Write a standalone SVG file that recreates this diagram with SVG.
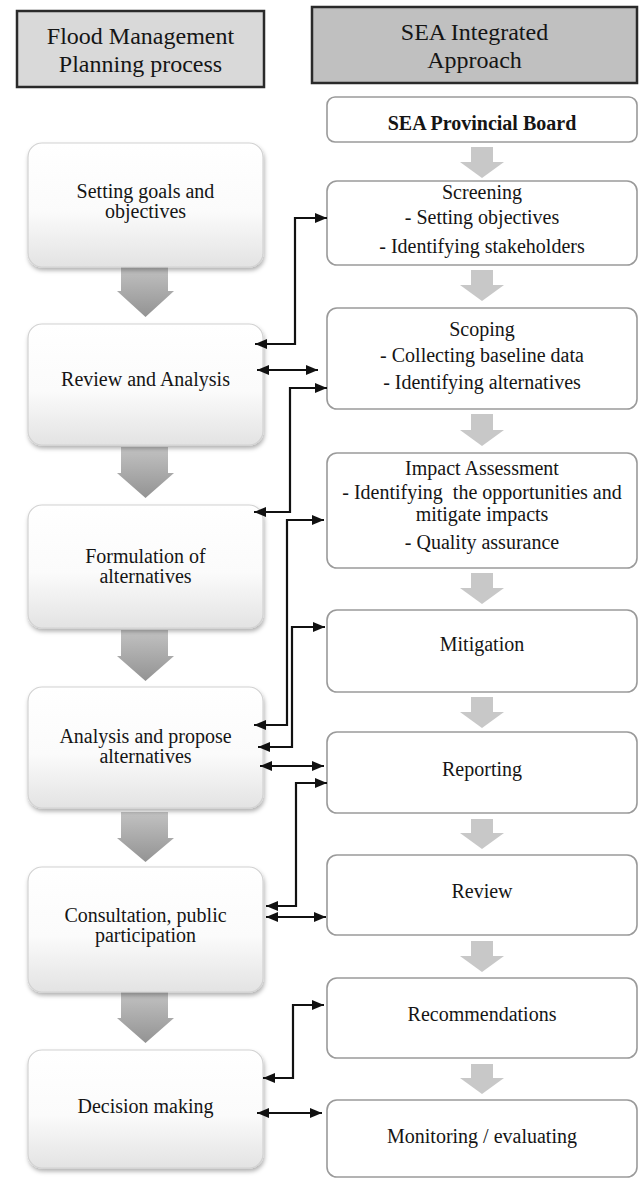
<svg xmlns="http://www.w3.org/2000/svg" width="641" height="1179" viewBox="0 0 641 1179">
<style>
  text { font-family: "Liberation Serif", "Times New Roman", serif; fill: #151515; text-anchor: middle; }
  .hdr { font-size: 24px; }
  .t { font-size: 20px; }
  .b { font-size: 20px; font-weight: bold; }
  .lbox { fill: url(#lgrad); stroke: #d2d2d2; stroke-width: 1.2; filter: url(#shadow); }
  .rbox { fill: #ffffff; stroke: #9a9a9a; stroke-width: 1.6; }
  .larrow { fill: url(#agradL); }
  .rarrow { fill: #c8c8c8; }
  .conn { fill: none; stroke: #111; stroke-width: 2.2; marker-end: url(#ah); }
  .both { marker-start: url(#ah); }
</style>
<defs>
  <linearGradient id="lgrad" x1="0" y1="0" x2="0" y2="1">
    <stop offset="0" stop-color="#ffffff"/>
    <stop offset="0.55" stop-color="#fbfbfb"/>
    <stop offset="1" stop-color="#e3e3e3"/>
  </linearGradient>
  <linearGradient id="agradL" x1="0" y1="0" x2="0" y2="1">
    <stop offset="0" stop-color="#c2c2c2"/>
    <stop offset="1" stop-color="#939393"/>
  </linearGradient>
  <filter id="shadow" x="-10%" y="-10%" width="125%" height="125%">
    <feDropShadow dx="1" dy="3" stdDeviation="2.2" flood-color="#000" flood-opacity="0.3"/>
  </filter>
  <marker id="ah" viewBox="0 0 12 10" markerWidth="12" markerHeight="10" refX="12" refY="5" orient="auto-start-reverse" markerUnits="userSpaceOnUse">
    <path d="M0,0 L12,5 L0,10 z" fill="#111"/>
  </marker>
</defs>

<!-- headers -->
<g id="hdr-left">
  <rect x="17" y="11" width="247" height="76" fill="#d9d9d9" stroke="#2a2a2a" stroke-width="2.5"/>
  <text class="hdr" x="140.5" y="44">Flood Management</text>
  <text class="hdr" x="140.5" y="72">Planning process</text>
</g>
<g id="hdr-right">
  <rect x="312" y="7" width="325" height="76" fill="#c0c0c0" stroke="#2a2a2a" stroke-width="2.5"/>
  <text class="hdr" x="474.5" y="40">SEA Integrated</text>
  <text class="hdr" x="474.5" y="68">Approach</text>
</g>

<!-- left gray block arrows -->
<g id="left-flow-arrows">
  <path class="larrow" d="M121,266 H168 V291 H174 L145.5,317 L117,291 H121 Z"/>
  <path class="larrow" d="M121,447 H168 V473 H174 L145.5,498 L117,473 H121 Z"/>
  <path class="larrow" d="M121,630 H168 V656 H174 L145.5,681 L117,656 H121 Z"/>
  <path class="larrow" d="M121,812 H168 V838 H174 L145.5,862 L117,838 H121 Z"/>
  <path class="larrow" d="M121,992 H168 V1018 H174 L145.5,1043 L117,1018 H121 Z"/>
</g>

<!-- right gray block arrows -->
<g id="right-flow-arrows">
  <path class="rarrow" d="M471,147 H493 V162 H504 L482,178 L460,162 H471 Z"/>
  <path class="rarrow" d="M471,270 H493 V285 H504 L482,301 L460,285 H471 Z"/>
  <path class="rarrow" d="M471,414 H493 V430 H504 L482,446 L460,430 H471 Z"/>
  <path class="rarrow" d="M471,573 H493 V588 H504 L482,604 L460,588 H471 Z"/>
  <path class="rarrow" d="M471,697 H493 V712 H504 L482,728 L460,712 H471 Z"/>
  <path class="rarrow" d="M471,819 H493 V833 H504 L482,849 L460,833 H471 Z"/>
  <path class="rarrow" d="M471,941 H493 V956 H504 L482,972 L460,956 H471 Z"/>
  <path class="rarrow" d="M471,1064 H493 V1078 H504 L482,1094 L460,1078 H471 Z"/>
</g>

<!-- left nodes -->
<g id="n-setting">
  <rect class="lbox" x="28" y="143" width="235" height="124" rx="14"/>
  <text class="t" x="145.5" y="198">Setting goals and</text>
  <text class="t" x="145.5" y="218">objectives</text>
</g>
<g id="n-review-analysis">
  <rect class="lbox" x="28" y="324" width="235" height="121" rx="14"/>
  <text class="t" x="145.5" y="386">Review and Analysis</text>
</g>
<g id="n-formulation">
  <rect class="lbox" x="28" y="505" width="235" height="123" rx="14"/>
  <text class="t" x="145.5" y="563">Formulation of</text>
  <text class="t" x="145.5" y="583">alternatives</text>
</g>
<g id="n-analysis">
  <rect class="lbox" x="28" y="687" width="235" height="121" rx="14"/>
  <text class="t" x="145.5" y="743">Analysis and propose</text>
  <text class="t" x="145.5" y="763">alternatives</text>
</g>
<g id="n-consultation">
  <rect class="lbox" x="28" y="867" width="235" height="125" rx="14"/>
  <text class="t" x="145.5" y="922">Consultation, public</text>
  <text class="t" x="145.5" y="942">participation</text>
</g>
<g id="n-decision">
  <rect class="lbox" x="28" y="1050" width="235" height="118" rx="14"/>
  <text class="t" x="145.5" y="1113">Decision making</text>
</g>

<!-- right nodes -->
<g id="n-board">
  <rect class="rbox" x="327" y="97" width="310" height="45" rx="8"/>
  <text class="b" x="482" y="130">SEA Provincial Board</text>
</g>
<g id="n-screening">
  <rect class="rbox" x="327" y="181" width="310" height="84" rx="10"/>
  <text class="t" x="482" y="199">Screening</text>
  <text class="t" x="482" y="224">- Setting objectives</text>
  <text class="t" x="482" y="253">- Identifying stakeholders</text>
</g>
<g id="n-scoping">
  <rect class="rbox" x="327" y="308" width="310" height="101" rx="10"/>
  <text class="t" x="482" y="336">Scoping</text>
  <text class="t" x="482" y="362">- Collecting baseline data</text>
  <text class="t" x="482" y="389">- Identifying alternatives</text>
</g>
<g id="n-impact">
  <rect class="rbox" x="327" y="453" width="310" height="115" rx="10"/>
  <text class="t" x="482" y="475">Impact Assessment</text>
  <text class="t" x="482" y="499" xml:space="preserve">- Identifying  the opportunities and</text>
  <text class="t" x="482" y="521">mitigate impacts</text>
  <text class="t" x="482" y="549">- Quality assurance</text>
</g>
<g id="n-mitigation">
  <rect class="rbox" x="327" y="610" width="310" height="82" rx="10"/>
  <text class="t" x="482" y="651">Mitigation</text>
</g>
<g id="n-reporting">
  <rect class="rbox" x="327" y="732" width="310" height="81" rx="10"/>
  <text class="t" x="482" y="776">Reporting</text>
</g>
<g id="n-review">
  <rect class="rbox" x="327" y="855" width="310" height="80" rx="10"/>
  <text class="t" x="482" y="898">Review</text>
</g>
<g id="n-recommendations">
  <rect class="rbox" x="327" y="978" width="310" height="80" rx="10"/>
  <text class="t" x="482" y="1021">Recommendations</text>
</g>
<g id="n-monitoring">
  <rect class="rbox" x="327" y="1100" width="310" height="77" rx="10"/>
  <text class="t" x="482" y="1143">Monitoring / evaluating</text>
</g>

<!-- connectors -->
<g id="connectors">
  <path class="conn both" d="M327,218 H295 V344 H255"/>
  <path class="conn both" d="M257,370 H318"/>
  <path class="conn both" d="M327,388 H290 V512 H254"/>
  <path class="conn both" d="M324,520 H287 V725 H254"/>
  <path class="conn both" d="M325,627 H292 V747 H258"/>
  <path class="conn both" d="M260,766 H324"/>
  <path class="conn both" d="M327,783 H296 V906 H266"/>
  <path class="conn both" d="M266,917 H326"/>
  <path class="conn both" d="M324,1005 H293 V1078 H263"/>
  <path class="conn both" d="M257,1113 H322"/>
</g>
</svg>
